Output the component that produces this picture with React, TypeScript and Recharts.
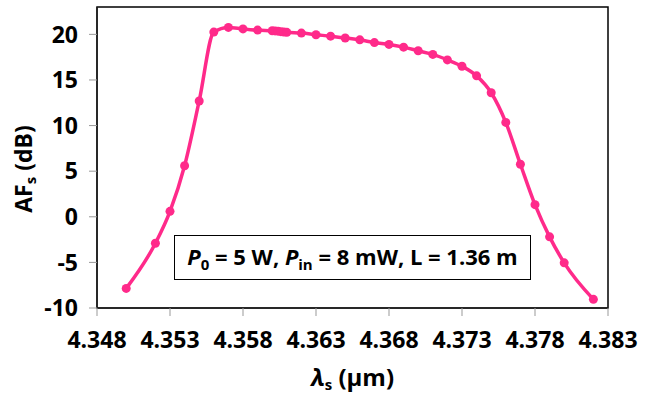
import { LineChart, Line, XAxis, YAxis, ReferenceArea, Label } from 'recharts'

// signal wavelength (um) and amplification factor (dB)
const wavelength = [
  4.35, 4.352, 4.353, 4.354, 4.355, 4.356, 4.357, 4.358, 4.359, 4.36, 4.3602, 4.3604, 4.3606, 4.3608, 4.361,
  4.362, 4.363, 4.364, 4.365, 4.366, 4.367, 4.368, 4.369, 4.37, 4.371, 4.372, 4.373, 4.374, 4.375, 4.376,
  4.377, 4.378, 4.379, 4.38, 4.382,
]
const gain = [
  -7.85, -2.9, 0.6, 5.6, 12.7, 20.25, 20.76, 20.6, 20.47, 20.4, 20.38, 20.35, 20.3, 20.25, 20.22,
  20.14, 19.96, 19.8, 19.6, 19.4, 19.1, 18.9, 18.6, 18.2, 17.8, 17.2, 16.5, 15.45, 13.6, 10.35,
  5.76, 1.33, -2.2, -5.05, -9.05,
]
const xTicks = [4.348, 4.353, 4.358, 4.363, 4.368, 4.373, 4.378, 4.383]
const yTicks = [-10, -5, 0, 5, 10, 15, 20]

const data = wavelength.map((w, i) => ({ w, af: gain[i] }))

const pink = '#ff2a8a'
const font = '"Open Sans", sans-serif'
const tickStyle = { fontSize: 23, fontWeight: 700, fill: '#000', fontFamily: font }

export default function App() {
  return (
    <div style={{ position: 'absolute', left: 0, top: 0, width: 651, height: 397, background: '#fff' }}>
      <LineChart width={651} height={397} data={data} margin={{ top: 7, right: 43, bottom: 0, left: 0 }}>
        <ReferenceArea x1={4.348} x2={4.383} y1={-10} y2={23} fill="none" stroke="#000" strokeWidth={1.5} />
        <XAxis
          dataKey="w"
          type="number"
          domain={[4.348, 4.383]}
          ticks={xTicks}
          tickFormatter={(v) => v.toFixed(3)}
          height={89}
          tickSize={8}
          tickMargin={16}
          tick={tickStyle}
          tickLine={{ stroke: '#999' }}
          axisLine={{ stroke: '#222', strokeWidth: 1.5 }}
          allowDataOverflow
        >
          <Label
            content={({ viewBox }: any) => (
              <text x={viewBox.x + viewBox.width / 2} y={386} textAnchor="middle" fontFamily={font} fontWeight={700} fontSize={24} fill="#000">
                <tspan fontStyle="italic">λ</tspan>
                <tspan fontSize={15} dy={4}>s</tspan>
                <tspan dy={-4}> (μm)</tspan>
              </text>
            )}
          />
        </XAxis>
        <YAxis
          domain={[-10, 23]}
          ticks={yTicks}
          width={97}
          tickSize={8}
          tickMargin={11}
          tick={tickStyle}
          tickLine={{ stroke: '#999' }}
          axisLine={{ stroke: '#222', strokeWidth: 1.5 }}
          allowDataOverflow
        >
          <Label
            content={() => (
              <text transform="translate(32,169) rotate(-90)" x={0} y={0} textAnchor="middle" fontFamily={font} fontWeight={700} fontSize={23} fill="#000">
                AF
                <tspan fontSize={15} dy={4}>s</tspan>
                <tspan dy={-4}> (dB)</tspan>
              </text>
            )}
          />
        </YAxis>
        <Line
          type="monotone"
          dataKey="af"
          stroke={pink}
          strokeWidth={3.5}
          dot={{ r: 4.5, fill: pink, stroke: 'none' }}
          isAnimationActive={false}
        />
      </LineChart>
      <div
        style={{
          position: 'absolute',
          left: 174,
          top: 235,
          width: 357,
          height: 45,
          boxSizing: 'border-box',
          border: '1.5px solid #000',
          background: '#fff',
          fontFamily: font,
          fontWeight: 700,
          fontSize: 22,
          lineHeight: '41px',
          textAlign: 'center',
          whiteSpace: 'nowrap',
          color: '#000',
        }}
      >
        <i>P</i>
        <sub style={{ fontSize: 15, lineHeight: 0 }}>0</sub> = 5 W, <i>P</i>
        <sub style={{ fontSize: 15, lineHeight: 0 }}>in</sub> = 8 mW, L = 1.36 m
      </div>
    </div>
  )
}
